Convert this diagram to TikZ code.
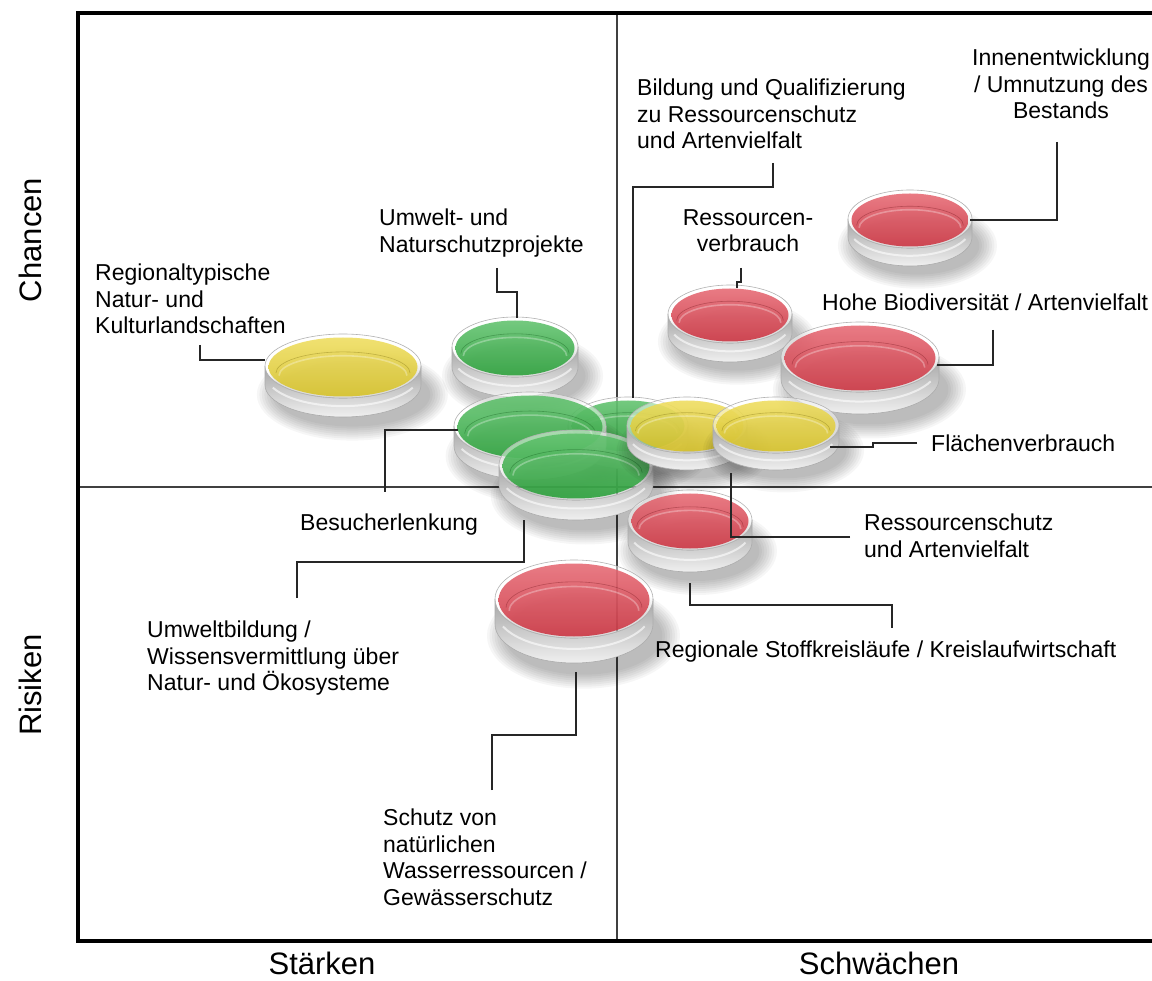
\documentclass[tikz,border=0pt]{standalone}
\usepackage{fontspec}
\setmainfont{Liberation Sans}
\usetikzlibrary{calc}
\definecolor{discY}{RGB}{232,208,30}
\definecolor{discG}{RGB}{34,170,52}
\definecolor{discR}{RGB}{220,45,60}
\tikzset{
  lbl/.style={anchor=north west, inner sep=0pt, align=left, font=\fontsize{23}{26.5}\selectfont},
  lblc/.style={anchor=north, inner sep=0pt, align=center, font=\fontsize{23}{26.5}\selectfont},
  conn/.style={draw=black!85, line width=1.4pt},
  frameline/.style={line width=3.6pt, black},
  axisline/.style={line width=1.1pt, black!75},
  axlbl/.style={font=\fontsize{31}{36}\selectfont, inner sep=0pt},
}
% #1 cx, #2 cy, #3 rx, #4 ry, #5 thickness, #6 colour
\newcommand\gdisc[6]{%
\begin{scope}[shift={(#1,#2)}]
  \foreach \k in {0,...,7}{
    \fill[black,opacity=0.035] ({0.12*#3},{#5+0.30*#4}) ellipse ({#3*1.0+\k*2.5} and {#4*1.0+\k*2});
  }
  \path[top color=gray!70, bottom color=gray!12, draw=gray!65, line width=0.6pt]
    (-#3,0) -- (-#3,#5) arc[start angle=180, end angle=0, x radius=#3, y radius=#4]
    -- (#3,0) arc[start angle=0, end angle=180, x radius=#3, y radius=#4] -- cycle;
  \draw[white, opacity=0.6, line width=2pt]
    ({-0.9*#3},{#5*0.55+0.35*#4}) arc[start angle=155, end angle=25, x radius={0.99*#3}, y radius=#4];
  \fill[white, opacity=0.5] (0,0) ellipse ({#3} and {#4});
  \draw[gray!60, line width=0.6pt] (0,0) ellipse ({#3} and {#4});
  \shade[top color=#6!75!white, bottom color=#6!92!black, opacity=0.84] (0,1) ellipse ({#3-3.5} and {#4-2.5});
  \draw[#6!55!black, opacity=0.4, line width=0.6pt]
    ({-0.86*#3},{0.22*#4}) arc[start angle=180, end angle=360, x radius={0.86*#3}, y radius={0.66*#4}];
  \draw[white, opacity=0.3, line width=1.6pt]
    ({-0.82*#3},{0.30*#4}) arc[start angle=180, end angle=360, x radius={0.82*#3}, y radius={0.62*#4}];
\end{scope}}
\begin{document}
\begin{tikzpicture}[x=1pt,y=-1pt]
\useasboundingbox (0,0) rectangle (1152,981);
\fill[white] (0,0) rectangle (1152,981);

% axes inside
\coordinate (axT) at (617,13);
\coordinate (axB) at (617,941);
\coordinate (axL) at (78,487);
\coordinate (axR) at (1152,487);
\draw[axisline] (axT) -- (axB);
\draw[axisline] (axL) -- (axR);

% discs
\gdisc{343}{366}{78}{32}{19}{discY}
\gdisc{515}{347}{63}{30}{20}{discG}
\gdisc{730}{314}{62}{29}{19}{discR}
\gdisc{910}{219}{62}{29}{18}{discR}
\gdisc{860}{357}{79}{35}{22}{discR}
\gdisc{628}{425}{60}{28}{16}{discG}
\gdisc{530}{426}{76}{34}{20}{discG}
\gdisc{576}{465}{77}{35}{20}{discG}
\gdisc{687}{425}{60}{28}{17}{discY}
\gdisc{776}{425}{63}{28}{17}{discY}
\gdisc{690}{520}{62}{30}{22}{discR}
\gdisc{574}{599}{79}{39}{25}{discR}

% frame
\coordinate (fTR) at (1152,13);
\coordinate (fTL) at (78,13);
\coordinate (fBL) at (78,941);
\coordinate (fBR) at (1152,941);
\draw[frameline] (fTR) -- (fTL) -- (fBL) -- (fBR);

% axis labels
\node[axlbl, rotate=90] (chancen) at (30,240) {Chancen};
\node[axlbl, rotate=90] (risiken) at (30,685) {Risiken};
\node[axlbl] (staerken) at (322,963) {Stärken};
\node[axlbl] (schwaechen) at (879,963) {Schwächen};

% labels
\node[lbl] (tReg) at (95,264) {Regionaltypische\\Natur- und\\Kulturlandschaften};
\node[lbl] (tUmw) at (379,209) {Umwelt- und\\Naturschutzprojekte};
\node[lblc] (tRv) at (748,209) {Ressourcen-\\verbrauch};
\node[lbl] (tBild) at (637,79) {Bildung und Qualifizierung\\zu Ressourcenschutz\\und Artenvielfalt};
\node[lblc] (tInn) at (1061,49) {Innenentwicklung\\/ Umnutzung des\\Bestands};
\node[lbl] (tHohe) at (822,294) {Hohe Biodiversität / Artenvielfalt};
\node[lbl] (tFl) at (931,435) {Flächenverbrauch};
\node[lbl] (tBes) at (300,514) {Besucherlenkung};
\node[lbl] (tRs) at (864,514) {Ressourcenschutz\\und Artenvielfalt};
\node[lbl] (tRg) at (655,641) {Regionale Stoffkreisläufe / Kreislaufwirtschaft};
\node[lbl] (tUb) at (147,621) {Umweltbildung /\\Wissensvermittlung über\\Natur- und Ökosysteme};
\node[lbl] (tSch) at (383,809) {Schutz von\\natürlichen\\Wasserressourcen /\\Gewässerschutz};

% connector end points
\coordinate (aReg) at (200,345);  \coordinate (bReg) at (265,360);
\coordinate (aUmw) at (497,268);  \coordinate (bUmw) at (517,318);
\coordinate (aRv) at (741,268);   \coordinate (bRv) at (737,288);
\coordinate (aBild) at (773,163); \coordinate (bBild) at (633,398);
\coordinate (aInn) at (1057,142); \coordinate (bInn) at (970,220);
\coordinate (aHohe) at (993,330); \coordinate (bHohe) at (937,365);
\coordinate (aFl) at (917,443);   \coordinate (bFl) at (830,447);
\coordinate (aRs) at (850,537);   \coordinate (bRs) at (731,473);
\coordinate (aRg) at (892,628);   \coordinate (bRg) at (690,583);
\coordinate (aBes) at (385,492);  \coordinate (bBes) at (458,430);
\coordinate (aUb) at (297,598);   \coordinate (bUb) at (524,520);
\coordinate (aSch) at (492,790);  \coordinate (bSch) at (576,672);

\draw[conn] (aReg) |- (bReg);
\draw[conn] (aUmw) -- ++(0,24) -| (bUmw);
\draw[conn] (aRv) -- ++(0,14) -| (bRv);
\draw[conn] (aBild) -- ++(0,24) -| (bBild);
\draw[conn] (aInn) |- (bInn);
\draw[conn] (aHohe) |- (bHohe);
\draw[conn] (aFl) -- ++(-44,0) |- (bFl);
\draw[conn] (aRs) -| (bRs);
\draw[conn] (bRg) -- ++(0,22) -| (aRg);
\draw[conn] (aBes) |- (bBes);
\draw[conn] (aUb) -- ++(0,-36) -| (bUb);
\draw[conn] (aSch) -- ++(0,-55) -| (bSch);
\end{tikzpicture}
\end{document}
